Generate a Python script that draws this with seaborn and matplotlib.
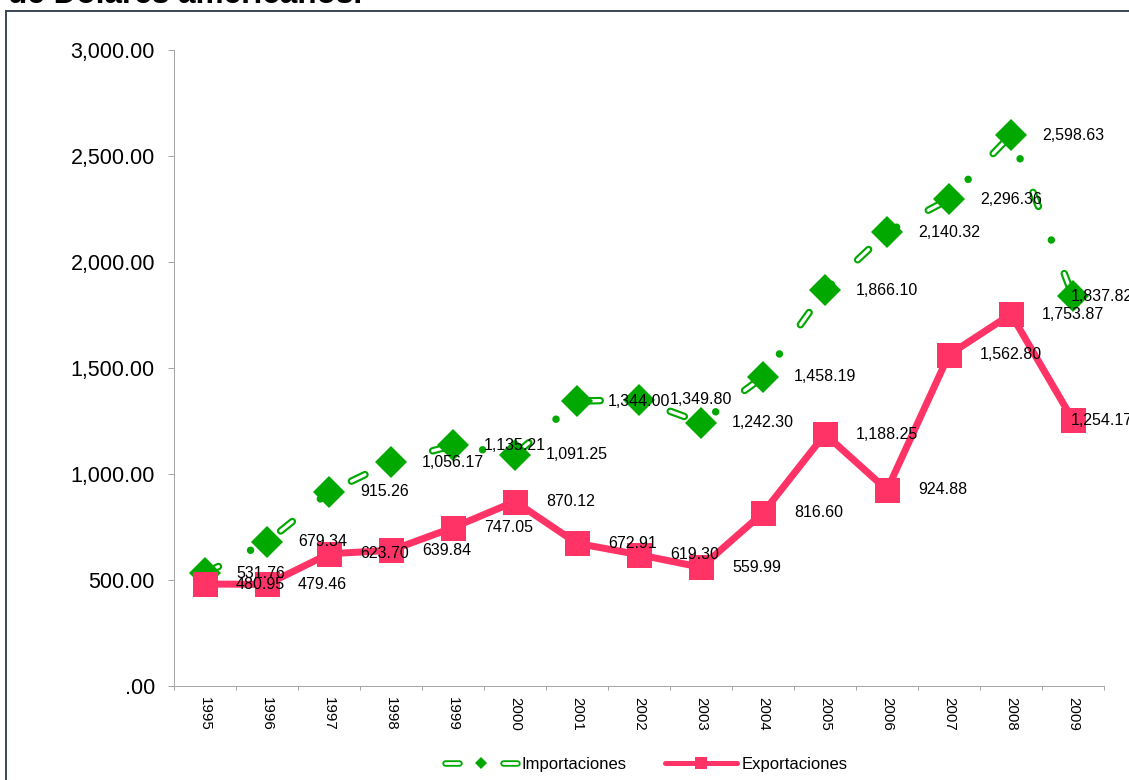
import numpy as np
import pandas as pd
import matplotlib
matplotlib.use("Agg")
import matplotlib.pyplot as plt
import seaborn as sns
from matplotlib.lines import Line2D
from matplotlib.legend_handler import HandlerTuple
from matplotlib.patches import Rectangle
from matplotlib.ticker import FuncFormatter

# ---------------- data ----------------
years = [1995, 1996, 1997, 1998, 1999, 2000, 2001, 2002, 2003, 2004,
         2005, 2006, 2007, 2008, 2009]
importaciones = [531.76, 679.34, 915.26, 1056.17, 1135.21, 1091.25, 1344.00,
                 1349.80, 1242.30, 1458.19, 1866.10, 2140.32, 2296.36,
                 2598.63, 1837.82]
exportaciones = [480.95, 479.46, 623.70, 639.84, 747.05, 870.12, 672.91,
                 619.30, 559.99, 816.60, 1188.25, 924.88, 1562.80,
                 1753.87, 1254.17]
y_ticks = [0, 500, 1000, 1500, 2000, 2500, 3000]
series_names = ["Importaciones", "Exportaciones"]
title = "de Dólares americanos."

# ---------------- style ----------------
sns.set_theme(style="white")
plt.rcParams["font.family"] = ["Liberation Sans", "DejaVu Sans"]
plt.rcParams["lines.scale_dashes"] = False

W, H = 1129, 780
PX = 0.72  # points per pixel at dpi 100
GREEN = "#00A800"
PINK = "#FF3366"
AXIS_GRAY = "#A6A6A6"

fig = plt.figure(figsize=(W / 100, H / 100), dpi=100)
ax = fig.add_axes([174 / W, 94 / H, 930 / W, 636 / H])

df = pd.DataFrame({"year": years,
                   series_names[0]: importaciones,
                   series_names[1]: exportaciones})

# Importaciones: hollow long-dash / dot line
period = 87
outer_dash = (0, (15 * PX, 36 * PX, 0.01, 36 * PX))
inner_dash = (0, (15 * PX, (period - 15) * PX))
sns.lineplot(data=df, x="year", y=series_names[0], ax=ax, color=GREEN,
             linewidth=7.5 * PX, linestyle=outer_dash, dash_capstyle="round",
             errorbar=None)
ax.plot(df["year"], df[series_names[0]], color="white", linewidth=3.2 * PX,
        linestyle=inner_dash, dash_capstyle="round")
sns.lineplot(data=df, x="year", y=series_names[0], ax=ax, color=GREEN,
             linestyle="none", marker="D", markersize=16.8,
             markeredgewidth=0, markeredgecolor=GREEN, errorbar=None)

# Exportaciones
sns.lineplot(data=df, x="year", y=series_names[1], ax=ax, color=PINK,
             linewidth=7 * PX, marker="s", markersize=18,
             markeredgewidth=0, markeredgecolor=PINK, errorbar=None)

# data labels
n = len(years)
for series in series_names:
    for i, (x, v) in enumerate(zip(df["year"], df[series])):
        off = -2 * PX if i == n - 1 else 31 * PX
        ax.annotate(f"{v:,.2f}", xy=(x, v), xytext=(off, 0),
                    textcoords="offset points", ha="left", va="center",
                    fontsize=11.5, color="black", annotation_clip=False)

# axes
ax.set_xlim(years[0] - 0.5, years[-1] + 0.5)
ax.set_ylim(y_ticks[0], y_ticks[-1])
ax.set_xticks(years)
ax.set_xticklabels([str(y) for y in years])
ax.set_xticks(np.arange(years[0] - 0.5, years[-1] + 1.0, 1.0), minor=True)
ax.set_yticks(y_ticks)
ax.yaxis.set_major_formatter(FuncFormatter(lambda v, p: f"{v:,.2f}" if v else ".00"))
ax.tick_params(axis="x", which="major", length=0, pad=8, labelsize=10.8,
               labelrotation=-90, bottom=True, labelcolor="black")
ax.tick_params(axis="x", which="minor", length=4 * PX, width=1 * PX,
               color=AXIS_GRAY, bottom=True)
ax.tick_params(axis="y", which="major", length=6 * PX, width=1 * PX,
               color=AXIS_GRAY, pad=9.4, labelsize=15.5, left=True,
               labelcolor="black")
ax.set_xlabel("")
ax.set_ylabel("")
for s in ["top", "right"]:
    ax.spines[s].set_visible(False)
for s in ["left", "bottom"]:
    ax.spines[s].set_color(AXIS_GRAY)
    ax.spines[s].set_linewidth(1 * PX)
ax.grid(False)

# legend
leg_pat = (0, (14 * PX, 44 * PX))
imp_outer = Line2D([], [], color=GREEN, lw=6.5 * PX, linestyle=leg_pat,
                   dash_capstyle="round")
imp_inner = Line2D([], [], color="white", lw=2.8 * PX, linestyle=leg_pat,
                   dash_capstyle="round")
imp_mark = Line2D([], [], color=GREEN, linestyle="none", marker="D", ms=6,
                  mew=0)
exp_handle = Line2D([], [], color=PINK, lw=5 * PX, marker="s", ms=8, mew=0)
fs = 12
em = fs / PX
fig.legend(handles=[(imp_outer, imp_inner, imp_mark), exp_handle],
           labels=series_names, loc="center",
           bbox_to_anchor=(646 / W, 15.5 / H), ncol=2, frameon=False,
           fontsize=fs, handlelength=72 / em, handletextpad=5 / em,
           columnspacing=38 / em, borderpad=0, borderaxespad=0,
           labelcolor="black",
           handler_map={tuple: HandlerTuple(ndivide=1, pad=0)})

# frame and (cropped) title
fig.add_artist(Rectangle((5.5 / W, -0.2), 1.5, (H - 10.5) / H + 0.2,
                         transform=fig.transFigure, fill=False,
                         edgecolor="#3F4A5C", linewidth=2 * PX, clip_on=False))
fig.text(8 / W, 1 - 3 / H, title, fontsize=22.7, fontweight="bold",
         ha="left", va="baseline", color="black")

fig.savefig("out.png", dpi=100)
